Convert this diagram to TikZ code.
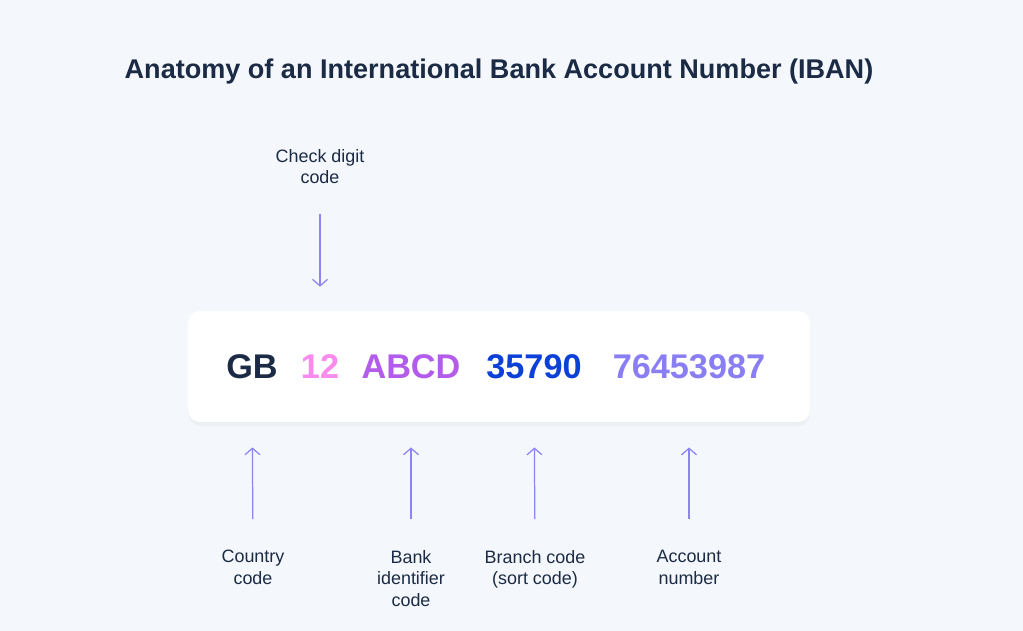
\documentclass[tikz,border=0pt]{standalone}
\usepackage{fontspec}
\setmainfont{Liberation Sans}
\usetikzlibrary{arrows.meta,shadows}
\definecolor{bgColor}{HTML}{F4F7FB}
\definecolor{inkColor}{HTML}{1B2B45}
\definecolor{arrowColor}{HTML}{8C84F2}
\definecolor{checkColor}{HTML}{F98AEE}
\definecolor{bankColor}{HTML}{B35CEC}
\definecolor{branchColor}{HTML}{0B40D9}
\definecolor{accountColor}{HTML}{8A7EF4}
\tikzset{label/.style={align=center, text=inkColor, inner sep=0pt, font=\fontsize{10.2}{12.2}\selectfont}}
\tikzset{digits/.style={inner sep=0pt, font=\fontsize{19.5}{22}\selectfont\bfseries}}
\tikzset{pointer/.style={draw=arrowColor, line width=0.7pt, -{Straight Barb[length=0.13cm, width=0.3cm]}}}

\begin{document}
\begin{tikzpicture}[x=0.02cm, y=-0.02cm]
% Background
\fill[bgColor] (0,0) rectangle (1023,631);

    \node (Title) [text=inkColor, font=\fontsize{15.4}{18}\selectfont\bfseries] at (499,72) {Anatomy of an International Bank Account Number (IBAN)};

    \node (IbanBox) [fill=white, rounded corners=0.24cm, minimum width=12.44cm, minimum height=2.22cm, drop shadow={opacity=0.06, shadow xshift=0pt, shadow yshift=-2pt}] at (499,366.5) {};

    \node (numGB) [digits, text=inkColor] at (252,367) {GB};
    \node (num12) [digits, text=checkColor] at (320,367) {12};
    \node (numBank) [digits, text=bankColor] at (411,367) {ABCD};
    \node (numBranch) [digits, text=branchColor] at (534,367) {35790};
    \node (numAccount) [digits, text=accountColor] at (689,367) {76453987};

    \node (CheckDigit) [label, anchor=south] at (320,184) {Check digit\\ code};

    \node (Country) [label, anchor=north] at (253,550) {Country\\ code};
    \node (Bank) [label, anchor=north] at (411,550) {Bank\\ identifier\\ code};
    \node (Branch) [label, anchor=north] at (535,550) {Branch code\\ (sort code)};
    \node (Account) [label, anchor=north] at (689,550) {Account\\ number};

% Connectors
    \draw [pointer, shorten <=0.6cm, shorten >=1.36cm] (CheckDigit.south) -- (num12.north);

    \draw [pointer, shorten <=0.62cm, shorten >=1.36cm] (Country.north) -- (numGB.south);
    \draw [pointer, shorten <=0.62cm, shorten >=1.36cm] (Bank.north) -- (numBank.south);
    \draw [pointer, shorten <=0.62cm, shorten >=1.36cm] (Branch.north) -- (numBranch.south);
    \draw [pointer, shorten <=0.62cm, shorten >=1.36cm] (Account.north) -- (numAccount.south);

\end{tikzpicture}
\end{document}
